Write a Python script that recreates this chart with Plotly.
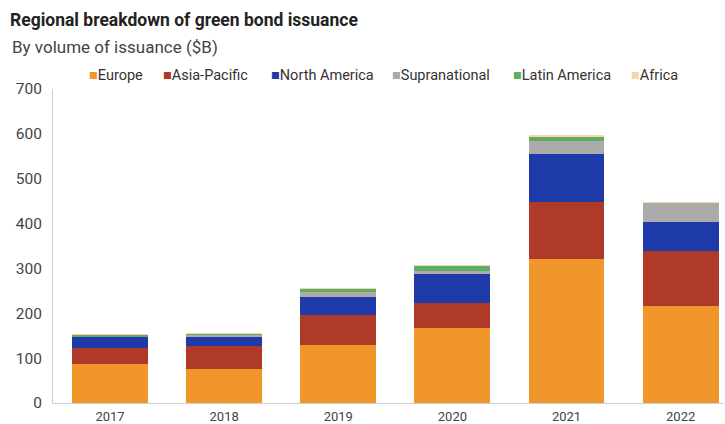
import plotly.graph_objects as go

years = ["2017", "2018", "2019", "2020", "2021", "2022"]
europe = [87, 76, 129, 168, 322, 217]
asia_pacific = [35, 50, 67, 54, 127, 122]
north_america = [26, 22, 40, 65, 105, 64]
supranational = [1, 5, 12.5, 7, 31, 43]
latin_america = [3.5, 1.5, 6, 12, 10, 1]
africa = [0.5, 0.5, 1, 1, 1, 0.5]

series_names = ["Europe", "Asia-Pacific", "North America", "Supranational",
                "Latin America", "Africa"]
series_values = [europe, asia_pacific, north_america, supranational,
                 latin_america, africa]
series_colors = ["#F0962A", "#B03A28", "#1E3AA8", "#ABABAB", "#5DAE62", "#F9D5AA"]

# legend entry left edges (pixels from left of figure)
legend_x_px = [87, 161, 269, 390, 511, 629]

FONT = "Roboto"
W, H = 725, 424
ML, MR, MT, MB = 53, 1, 89, 21
PW, PH = W - ML - MR, H - MT - MB

fig = go.Figure()
for name, vals, color in zip(series_names, series_values, series_colors):
    fig.add_trace(go.Bar(
        x=years, y=vals, name=name,
        marker=dict(color=color, line=dict(width=0)),
    ))

annotations = [dict(
    text="By volume of issuance ($B)", xref="paper", yref="paper",
    x=(10 - ML) / PW, y=1 + (MT - 47) / PH, xanchor="left", yanchor="middle",
    showarrow=False, font=dict(family=FONT, size=17, color="#444444"),
)]
for name, color, px in zip(series_names, series_colors, legend_x_px):
    annotations.append(dict(
        text=f'<span style="color:{color}">■</span>{name}',
        xref="paper", yref="paper",
        x=(px - ML) / PW, y=1 + (MT - 75) / PH,
        xanchor="left", yanchor="middle", showarrow=False,
        font=dict(family=FONT, size=14.5, color="#333333"),
    ))

fig.update_layout(
    width=W, height=H,
    barmode="stack", bargap=0.335,
    showlegend=False,
    paper_bgcolor="white", plot_bgcolor="white",
    margin=dict(l=ML, r=MR, t=MT, b=MB, autoexpand=False),
    font=dict(family=FONT, color="#444444"),
    title=dict(
        text="<b>Regional breakdown of green bond issuance</b>",
        xref="container", yref="container", x=10 / W, y=1 - 20 / H,
        xanchor="left", yanchor="middle",
        font=dict(family=FONT, size=17.5, color="#222222"),
    ),
    annotations=annotations,
    xaxis=dict(
        range=[-0.5, 5.38], showline=True, linecolor="#CFCFCF", linewidth=1,
        ticks="", showgrid=False, zeroline=False, automargin=False,
        tickfont=dict(family=FONT, size=13, color="#444444"),
        ticklabelstandoff=1,
    ),
    yaxis=dict(
        range=[0, 700], dtick=100, showline=True, linecolor="#CFCFCF", linewidth=1,
        ticks="", showgrid=False, zeroline=False, automargin=False,
        tickfont=dict(family=FONT, size=15.5, color="#444444"),
        ticklabelstandoff=7,
    ),
)

fig.write_html("out.html")
